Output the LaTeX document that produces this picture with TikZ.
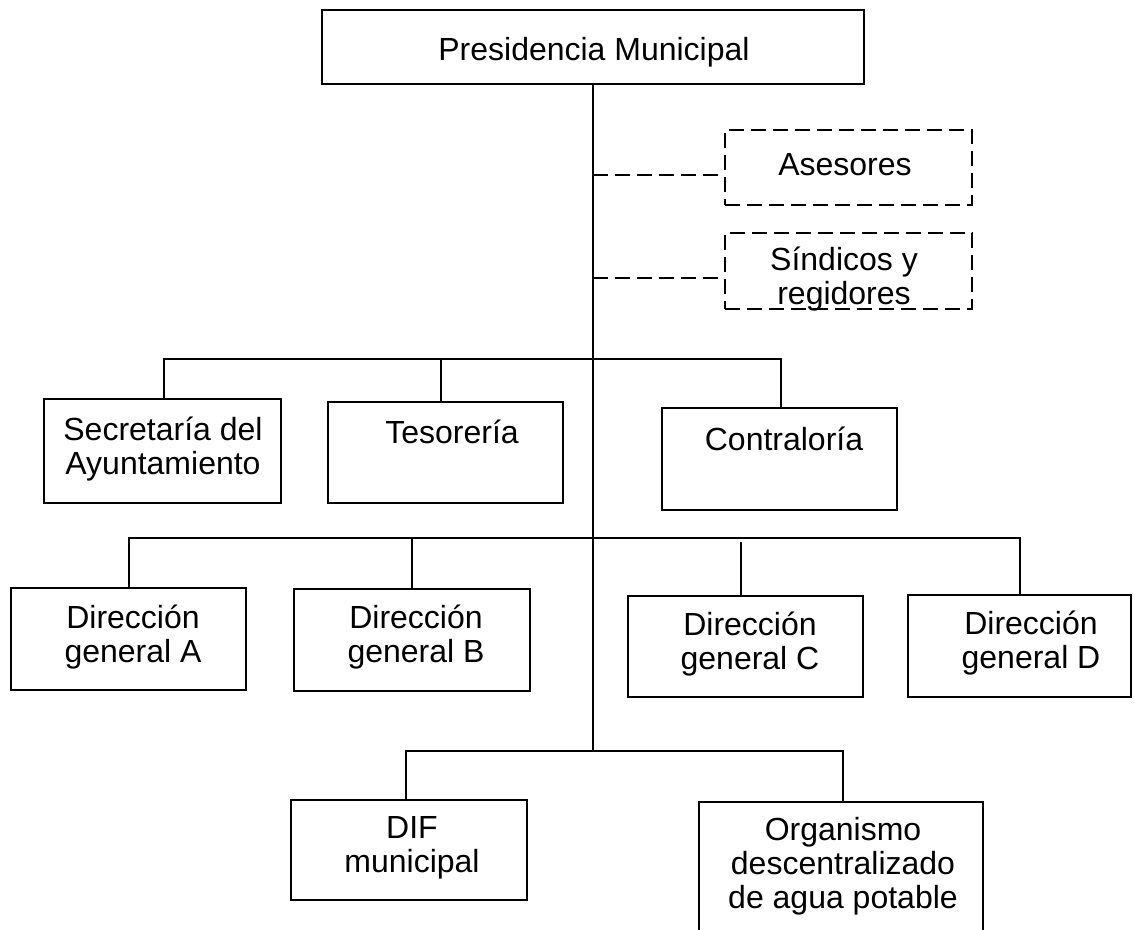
\documentclass[tikz,border=0pt]{standalone}
\usepackage{fontspec}
\setmainfont{Liberation Sans}
\begin{document}
\begin{tikzpicture}[x=0.5pt,y=-0.5pt,
  unit/.style={draw=black, line width=1pt, inner sep=0pt, outer sep=0pt},
  dunit/.style={unit, dash pattern=on 7.5pt off 3.5pt},
  txt/.style={align=center, inner sep=0pt, text=black,
    font=\fontsize{16}{17}\selectfont},
  link/.style={line width=1pt, draw=black},
  dlink/.style={link, dash pattern=on 7.5pt off 3.5pt}]

% box from its top-left to its bottom-right corner (pixel units)
\newcommand\orgbox[6]{%
  \node[#6, anchor=north west,
    minimum width={(#4-#2)*0.5pt}, minimum height={(#5-#3)*0.5pt}]
    (#1) at (#2,#3) {};}

\useasboundingbox (0,0) rectangle (1135,930);
\clip (0,0) rectangle (1135,930);

% boxes
\orgbox{pres}{322}{10}{864}{84}{unit}
\orgbox{ase}{725}{130}{972}{205}{dunit}
\orgbox{sin}{725}{233}{972}{309}{dunit}
\orgbox{sec}{44}{399}{281}{503}{unit}
\orgbox{tes}{328}{402}{563}{503}{unit}
\orgbox{con}{662}{408}{897}{510}{unit}
\orgbox{dga}{11}{588}{246}{690}{unit}
\orgbox{dgb}{294}{589}{530}{691}{unit}
\orgbox{dgc}{628}{596}{863}{697}{unit}
\orgbox{dgd}{908}{595}{1131}{697}{unit}
\orgbox{dif}{291}{800}{527}{900}{unit}
\orgbox{org}{699}{802}{983}{970}{unit}

% labels
\node[txt] (tpres) at (594,52) {Presidencia Municipal};
\node[txt] (tase) at (845,165) {Asesores};
\node[txt] (tsin) at (844,279) {Síndicos y\\regidores};
\node[txt] (tsec) at (163,449) {Secretaría del\\Ayuntamiento};
\node[txt] (ttes) at (452,432) {Tesorería};
\node[txt] (tcon) at (784,439) {Contraloría};
\node[txt] (tdga) at (133,637) {Dirección\\general A};
\node[txt] (tdgb) at (416,637) {Dirección\\general B};
\node[txt] (tdgc) at (750,644) {Dirección\\general C};
\node[txt] (tdgd) at (1031,643) {Dirección\\general D};
\node[txt] (tdif) at (412,848) {DIF\\municipal};
\node[txt] (torg) at (843,866) {Organismo\\descentralizado\\de agua potable};

% junctions on the main line
\coordinate (d1) at (593,175);
\coordinate (d2) at (593,278);
\coordinate (b1) at (593,359);
\coordinate (b2) at (593,538);
\coordinate (b3) at (593,751);

% main line
\draw[link] (pres.south) -- (b3);

% advisory units
\draw[dlink] (d1) -- (ase.west |- d1);
\draw[dlink] (d2) -- (sin.west |- d2);

% first level
\draw[link] ([xshift=0.75pt]sec.north) |- (b1) -| ([xshift=0.75pt]con.north);
\draw[link] ([xshift=-2.25pt]tes.north) -- ([xshift=-2.25pt]tes.north |- b1);

% general directions
\draw[link] (dga.north) |- (b2) -| (dgd.north);
\draw[link] (dgb.north) -- (dgb.north |- b2);
\draw[link] ([xshift=-2.25pt]dgc.north) -- ([xshift=-2.25pt,yshift=-2pt]dgc.north |- b2);

% decentralised bodies
\draw[link] ([xshift=-1.5pt]dif.north) |- (b3) -| ([xshift=1pt]org.north);
\end{tikzpicture}
\end{document}
